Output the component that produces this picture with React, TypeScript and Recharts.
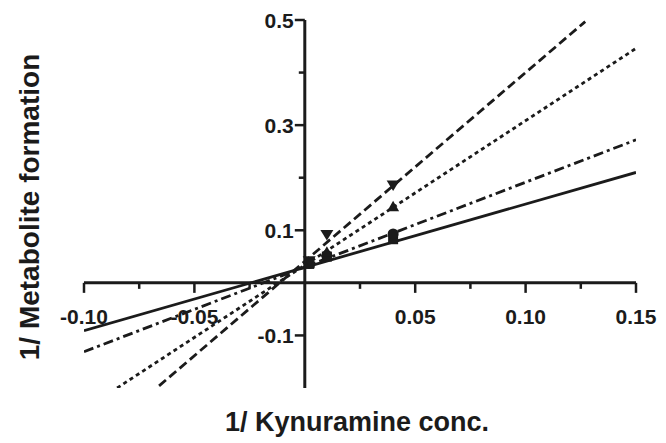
import React from "react";
import {
  ComposedChart,
  Line,
  Scatter,
  XAxis,
  YAxis,
  ReferenceLine,
  ReferenceDot,
} from "recharts";

// Measured points (1/[S], 1/v)
const pointX = [0.002, 0.01, 0.04];
const solidY = [0.036, 0.05, 0.083];
const dashDotY = [0.037, 0.052, 0.093];
const dottedY = [0.038, 0.058, 0.145];
const longDashY = [0.042, 0.092, 0.186];

// Fitted regression lines (end points)
const solidFitX = [-0.1, 0.15];
const solidFitY = [-0.091, 0.21];
const dashDotFitX = [-0.1, 0.15];
const dashDotFitY = [-0.131, 0.272];
const dottedFitX = [-0.085, 0.15];
const dottedFitY = [-0.2, 0.446];
const longDashFitX = [-0.066, 0.127];
const longDashFitY = [-0.196, 0.497];

// Axis ticks
const xMajorTicks = [-0.1, -0.05, 0.05, 0.1, 0.15];
const xMajorLabels = ["-0.10", "-0.05", "0.05", "0.10", "0.15"];
const xMinorTicks = [-0.075, -0.025, 0.025, 0.075, 0.125];
const yMajorTicks = [0.5, 0.3, 0.1, -0.1];
const yMajorLabels = ["0.5", "0.3", "0.1", "-0.1"];
const yMinorTicks = [0.4, 0.2];

const xTitle = "1/ Kynuramine conc.";
const yTitle = "1/ Metabolite formation";

const toPts = (xs: number[], ys: number[]) => xs.map((x, i) => ({ x, y: ys[i] }));

const INK = "#1b1b1b";
const FONT = "'Liberation Sans', Arial, sans-serif";
const LW = 2.8;

const Square = (p: any) => (
  <rect x={p.cx - 5} y={p.cy - 5} width={10} height={10} fill={INK} />
);
const Circle = (p: any) => <circle cx={p.cx} cy={p.cy} r={5.5} fill={INK} />;
const TriUp = (p: any) => (
  <path d={`M${p.cx},${p.cy - 6} L${p.cx + 6},${p.cy + 4.5} L${p.cx - 6},${p.cy + 4.5} Z`} fill={INK} />
);
const TriDown = (p: any) => (
  <path d={`M${p.cx},${p.cy + 6} L${p.cx + 6.5},${p.cy - 4.5} L${p.cx - 6.5},${p.cy - 4.5} Z`} fill={INK} />
);

const xTickShape = (len: number, label?: string) => (p: any) => (
  <g>
    <line x1={p.cx} y1={p.cy} x2={p.cx} y2={p.cy + len} stroke={INK} strokeWidth={2.5} />
    {label ? (
      <text
        x={p.cx}
        y={p.cy + 41}
        textAnchor="middle"
        fontFamily={FONT}
        fontWeight="bold"
        fontSize={21}
        fill={INK}
      >
        {label}
      </text>
    ) : null}
  </g>
);

const yTickShape = (len: number, label?: string) => (p: any) => (
  <g>
    <line x1={p.cx} y1={p.cy} x2={p.cx - len} y2={p.cy} stroke={INK} strokeWidth={2.5} />
    {label ? (
      <text
        x={p.cx - len - 1}
        y={p.cy + 8}
        textAnchor="end"
        fontFamily={FONT}
        fontWeight="bold"
        fontSize={21}
        fill={INK}
      >
        {label}
      </text>
    ) : null}
  </g>
);

export default function App() {
  return (
    <div style={{ position: "relative", width: 658, height: 435, background: "#fff" }}>
      <ComposedChart
        width={658}
        height={435}
        margin={{ top: 12, right: 30, bottom: 55, left: 76 }}
      >
        <XAxis type="number" dataKey="x" domain={[-0.1, 0.15]} hide allowDataOverflow />
        <YAxis type="number" dataKey="y" domain={[-0.2, 0.5]} hide allowDataOverflow />
        <ReferenceLine y={0} stroke={INK} strokeWidth={3} />
        <ReferenceLine x={0} stroke={INK} strokeWidth={3} />
        {xMajorTicks.map((t, i) => (
          <ReferenceDot key={"xM" + i} x={t} y={0} r={0} shape={xTickShape(10, xMajorLabels[i])} />
        ))}
        {xMinorTicks.map((t, i) => (
          <ReferenceDot key={"xm" + i} x={t} y={0} r={0} shape={xTickShape(6)} />
        ))}
        {yMajorTicks.map((t, i) => (
          <ReferenceDot key={"yM" + i} x={0} y={t} r={0} shape={yTickShape(10, yMajorLabels[i])} />
        ))}
        {yMinorTicks.map((t, i) => (
          <ReferenceDot key={"ym" + i} x={0} y={t} r={0} shape={yTickShape(6)} />
        ))}
        <Line data={toPts(solidFitX, solidFitY)} dataKey="y" stroke={INK} strokeWidth={LW} dot={false} isAnimationActive={false} />
        <Line data={toPts(dashDotFitX, dashDotFitY)} dataKey="y" stroke={INK} strokeWidth={LW} strokeDasharray="10 4 3 4" dot={false} isAnimationActive={false} />
        <Line data={toPts(dottedFitX, dottedFitY)} dataKey="y" stroke={INK} strokeWidth={LW} strokeDasharray="4 3.5" dot={false} isAnimationActive={false} />
        <Line data={toPts(longDashFitX, longDashFitY)} dataKey="y" stroke={INK} strokeWidth={LW} strokeDasharray="9 4.5" dot={false} isAnimationActive={false} />
        <Scatter data={toPts(pointX, solidY)} dataKey="y" shape={Square} isAnimationActive={false} />
        <Scatter data={toPts(pointX, dashDotY)} dataKey="y" shape={Circle} isAnimationActive={false} />
        <Scatter data={toPts(pointX, dottedY)} dataKey="y" shape={TriUp} isAnimationActive={false} />
        <Scatter data={toPts(pointX, longDashY)} dataKey="y" shape={TriDown} isAnimationActive={false} />
      </ComposedChart>
      <div
        style={{
          position: "absolute",
          left: 349,
          top: 414,
          transform: "translate(-50%, -50%)",
          whiteSpace: "nowrap",
          fontFamily: FONT,
          fontWeight: "bold",
          fontSize: 27,
          color: INK,
        }}
      >
        {xTitle}
      </div>
      <div
        style={{
          position: "absolute",
          left: 22,
          top: 199,
          transform: "translate(-50%, -50%) rotate(-90deg)",
          whiteSpace: "nowrap",
          fontFamily: FONT,
          fontWeight: "bold",
          fontSize: 28,
          color: INK,
        }}
      >
        {yTitle}
      </div>
    </div>
  );
}
